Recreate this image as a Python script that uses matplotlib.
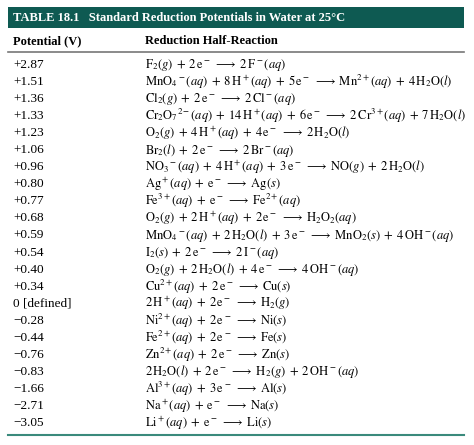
import matplotlib.pyplot as plt

plt.rcParams['mathtext.fontset'] = 'stix'
plt.rcParams['font.family'] = ['Liberation Serif', 'DejaVu Serif']

title = "TABLE 18.1   Standard Reduction Potentials in Water at 25°C"
col_heads = ["Potential (V)", "Reduction Half-Reaction"]
potentials = ["+2.87", "+1.51", "+1.36", "+1.33", "+1.23", "+1.06", "+0.96", "+0.80",
              "+0.77", "+0.68", "+0.59", "+0.54", "+0.40", "+0.34", "0 [defined]",
              "\u22120.28", "\u22120.44", "\u22120.76", "\u22120.83", "\u22121.66",
              "\u22122.71", "\u22123.05"]
AR = r"\;\longrightarrow\;"
P = r"\;+\;"
reactions = [
    r"$\mathrm{F_2}(g)" + P + r"2\,\mathrm{e^-}" + AR + r"2\,\mathrm{F^-}(aq)$",
    r"$\mathrm{MnO_4{}^-}(aq)" + P + r"8\,\mathrm{H^+}(aq)" + P + r"5\,\mathrm{e^-}" + AR + r"\mathrm{Mn^{2+}}(aq)" + P + r"4\,\mathrm{H_2O}(l)$",
    r"$\mathrm{Cl_2}(g)" + P + r"2\,\mathrm{e^-}" + AR + r"2\,\mathrm{Cl^-}(aq)$",
    r"$\mathrm{Cr_2O_7{}^{2-}}(aq)" + P + r"14\,\mathrm{H^+}(aq)" + P + r"6\,\mathrm{e^-}" + AR + r"2\,\mathrm{Cr^{3+}}(aq)" + P + r"7\,\mathrm{H_2O}(l)$",
    r"$\mathrm{O_2}(g)" + P + r"4\,\mathrm{H^+}(aq)" + P + r"4\,\mathrm{e^-}" + AR + r"2\,\mathrm{H_2O}(l)$",
    r"$\mathrm{Br_2}(l)" + P + r"2\,\mathrm{e^-}" + AR + r"2\,\mathrm{Br^-}(aq)$",
    r"$\mathrm{NO_3{}^-}(aq)" + P + r"4\,\mathrm{H^+}(aq)" + P + r"3\,\mathrm{e^-}" + AR + r"\mathrm{NO}(g)" + P + r"2\,\mathrm{H_2O}(l)$",
    r"$\mathrm{Ag^+}(aq)" + P + r"\mathrm{e^-}" + AR + r"\mathrm{Ag}(s)$",
    r"$\mathrm{Fe^{3+}}(aq)" + P + r"\mathrm{e^-}" + AR + r"\mathrm{Fe^{2+}}(aq)$",
    r"$\mathrm{O_2}(g)" + P + r"2\,\mathrm{H^+}(aq)" + P + r"2\,\mathrm{e^-}" + AR + r"\mathrm{H_2O_2}(aq)$",
    r"$\mathrm{MnO_4{}^-}(aq)" + P + r"2\,\mathrm{H_2O}(l)" + P + r"3\,\mathrm{e^-}" + AR + r"\mathrm{MnO_2}(s)" + P + r"4\,\mathrm{OH^-}(aq)$",
    r"$\mathrm{I_2}(s)" + P + r"2\,\mathrm{e^-}" + AR + r"2\,\mathrm{I^-}(aq)$",
    r"$\mathrm{O_2}(g)" + P + r"2\,\mathrm{H_2O}(l)" + P + r"4\,\mathrm{e^-}" + AR + r"4\,\mathrm{OH^-}(aq)$",
    r"$\mathrm{Cu^{2+}}(aq)" + P + r"2\,\mathrm{e^-}" + AR + r"\mathrm{Cu}(s)$",
    r"$2\,\mathrm{H^+}(aq)" + P + r"2\,\mathrm{e^-}" + AR + r"\mathrm{H_2}(g)$",
    r"$\mathrm{Ni^{2+}}(aq)" + P + r"2\,\mathrm{e^-}" + AR + r"\mathrm{Ni}(s)$",
    r"$\mathrm{Fe^{2+}}(aq)" + P + r"2\,\mathrm{e^-}" + AR + r"\mathrm{Fe}(s)$",
    r"$\mathrm{Zn^{2+}}(aq)" + P + r"2\,\mathrm{e^-}" + AR + r"\mathrm{Zn}(s)$",
    r"$2\,\mathrm{H_2O}(l)" + P + r"2\,\mathrm{e^-}" + AR + r"\mathrm{H_2}(g)" + P + r"2\,\mathrm{OH^-}(aq)$",
    r"$\mathrm{Al^{3+}}(aq)" + P + r"3\,\mathrm{e^-}" + AR + r"\mathrm{Al}(s)$",
    r"$\mathrm{Na^+}(aq)" + P + r"\mathrm{e^-}" + AR + r"\mathrm{Na}(s)$",
    r"$\mathrm{Li^+}(aq)" + P + r"\mathrm{e^-}" + AR + r"\mathrm{Li}(s)$",
]

teal = '#0e5a52'
fig = plt.figure(figsize=(4.74, 4.45), dpi=100)
ax = fig.add_axes([0, 0, 1, 1])
ax.set_xlim(0, 474)
ax.set_ylim(445, 0)
ax.axis('off')

ax.add_patch(plt.Rectangle((8, 7), 456, 21, color=teal, lw=0))
ax.text(13, 18, title, color='white', fontsize=9, fontweight='bold', va='center')
ax.text(13, 41, col_heads[0], fontsize=9, fontweight='bold', va='center')
ax.text(145, 41, col_heads[1], fontsize=9, fontweight='bold', va='center')
ax.plot([8, 464], [51.5, 51.5], color='#777777', lw=1.2)

y0, dy = 65, 17.05
for i, (p, r) in enumerate(zip(potentials, reactions)):
    y = y0 + i * dy
    ax.text(13, y, p, fontsize=9.5, va='center')
    ax.text(145, y, r, fontsize=9, va='center')

ax.plot([8, 464], [435, 435], color='#3a8a7c', lw=1.5)
fig.savefig('out.png', dpi=100)
